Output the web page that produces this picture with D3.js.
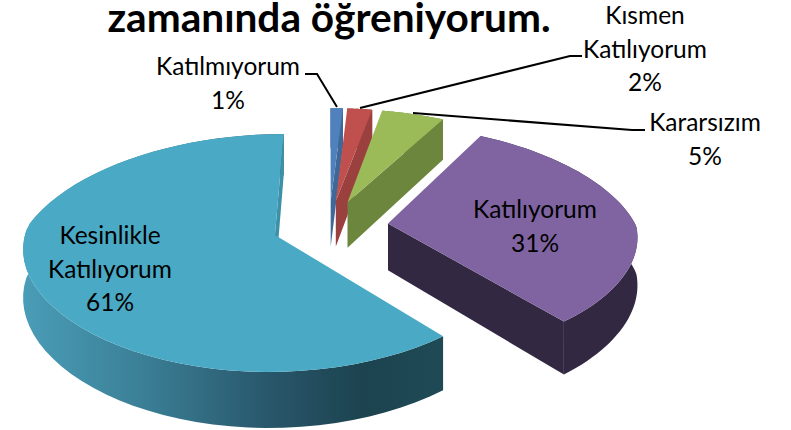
<!DOCTYPE html>
<html><head><meta charset="utf-8">
<script src="https://cdn.jsdelivr.net/npm/d3@7/dist/d3.min.js"></script>
<style>html,body{margin:0;padding:0;background:#fff}svg{display:block}text{font-family:Lato,"Open Sans",sans-serif;fill:#000}</style>
</head><body><svg id="c" width="791" height="430"></svg>
<script>
const categories=["Katılmıyorum","Kısmen Katılıyorum","Kararsızım","Katılıyorum","Kesinlikle Katılıyorum"];
const values=[1,2,5,31,61];
const topColors=["#4F81BD","#C0504D","#9BBB59","#8064A2","#4AAAC5"];
const wallColors=["#3F6797","#9A403E","#6D863D","#332842","url(#cy)"];
const endWallColors=["#3F6797","#9A403E","#6D863D","#332842","#3E8FA8"];
const explodes=[0.23,0.23,0.23,0.24,0.23];
const titleText="zamanında öğreniyorum.";
const labelLines=[["Katılmıyorum","1%"],["Kısmen","Katılıyorum","2%"],["Kararsızım","5%"],["Katılıyorum","31%"],["Kesinlikle","Katılıyorum","61%"]];
const labelAnchor=[[228,75],[645,24],[705,131],[535,218],[110,244]];
const leaders=[[[305,74],[317,74],[337,107]],[[582,56],[570,56],[360,108]],[[645,130],[632,130],[413,113]]];

const svg=d3.select("#c");
const grad=svg.append("defs").append("linearGradient").attr("id","cy").attr("gradientUnits","userSpaceOnUse")
 .attr("x1",22).attr("x2",437).attr("y1",0).attr("y2",0);
[[0,"#4A9DB8"],[0.3,"#3A7E95"],[0.6,"#28566A"],[0.82,"#1C434F"],[1,"#1F4A55"]].forEach(s=>grad.append("stop").attr("offset",s[0]).attr("stop-color",s[1]));

const cx=329,cy=226,Rx=248,Ry=113.5,persp=0.15,perspBack=0.2,perspFront=0.1,depth=47;
const pie=d3.pie().sort(null).value(d=>d)(values);
function project(u,v,z){const w=1-persp*v,wx=1-(v<0?perspBack:perspFront)*v;return [cx+u*Rx/wx,cy+(v*Ry+z)/w];}
const line=d3.line();
pie.forEach((p,i)=>{
 const mid=(p.startAngle+p.endAngle)/2,ox=explodes[i]*Math.sin(mid),oy=-explodes[i]*Math.cos(mid);
 const pt=(a,r,z)=>project(ox+r*Math.sin(a),oy-r*Math.cos(a),z);
 const angles=d3.range(0,61).map(k=>p.startAngle+(p.endAngle-p.startAngle)*k/60);
 const wall=angles.map(a=>pt(a,1,0)).concat(angles.slice().reverse().map(a=>pt(a,1,depth)));
 const g=svg.append("g");
 g.append("path").attr("d",line(wall)+"Z").attr("fill",wallColors[i]);
 const e=p.endAngle;
 g.append("path").attr("d",line([pt(e,0,0),pt(e,1,0),pt(e,1,depth),pt(e,0,depth)])+"Z").attr("fill",endWallColors[i]);
 g.append("path").attr("d",line([pt(0,0,0)].concat(angles.map(a=>pt(a,1,0))))+"Z").attr("fill",topColors[i]);
});
leaders.forEach(l=>svg.append("path").attr("d",line(l)).attr("fill","none").attr("stroke","#000").attr("stroke-width",2));
labelLines.forEach((ls,i)=>{
 const t=svg.append("text").attr("text-anchor","middle").attr("font-size",24.5);
 ls.forEach((s,j)=>t.append("tspan").attr("x",labelAnchor[i][0]).attr("y",labelAnchor[i][1]+j*33.5).text(s));
});
svg.append("text").attr("x",329).attr("y",32).attr("text-anchor","middle").attr("font-size",40.6).attr("font-weight",700).text(titleText);
</script></body></html>
